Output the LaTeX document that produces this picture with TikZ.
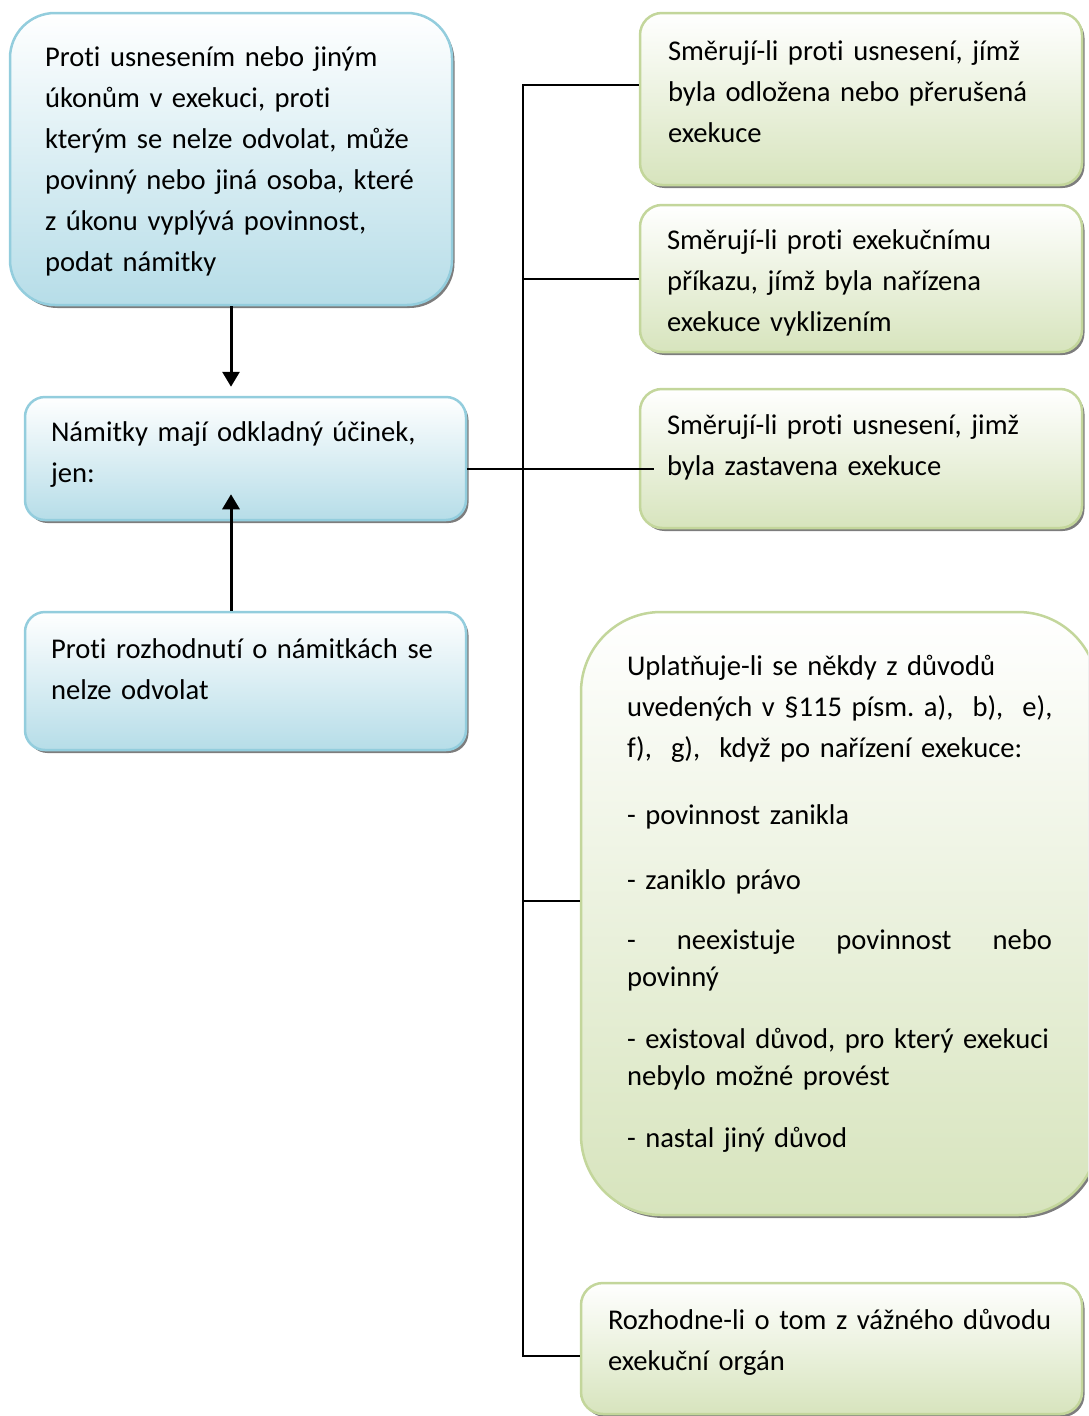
\documentclass[tikz,border=0pt]{standalone}
\usepackage{fontspec}
\setmainfont{Carlito}[Ligatures=NoCommon]
\usetikzlibrary{arrows.meta,shadows}

\definecolor{aqualine}{HTML}{93CDDD}
\definecolor{aquafill}{HTML}{B6DDE8}
\definecolor{oliveline}{HTML}{C3D69B}
\definecolor{olivefill}{HTML}{D7E4BD}

\hyphenpenalty=10000
\exhyphenpenalty=10000
\newcommand{\chartfont}{\fontsize{28.6pt}{41pt}\selectfont\frenchspacing}
%: \lastline{<depth>} keeps the text off the bottom edge
\newcommand{\lastline}[1]{\rule[-#1]{0pt}{#1}}

\begin{document}
\begin{tikzpicture}[x=1pt,y=-1pt,
  chartbox/.style={draw,line width=2.5pt,inner sep=0pt,align=left,font=\chartfont,
    drop shadow={shadow xshift=2.5pt,shadow yshift=-3pt,fill=black!60,opacity=.85}},
  aquabox/.style={chartbox,draw=aqualine,top color=white,bottom color=aquafill},
  olivebox/.style={chartbox,draw=oliveline,top color=white,bottom color=olivefill},
  link/.style={line width=2pt},
  push/.style={line width=3pt,-{Triangle[width=17pt,length=15pt]}}]
\useasboundingbox (0,0) rectangle (1088,1416);
\clip (0,0) rectangle (1088,1416);

% left column
\node[aquabox,rounded corners=45pt,minimum width=442pt,minimum height=292pt,text width=372pt]
  (objection) at (231,159) {\strut Proti usnesením nebo jiným\\ úkonům v exekuci, proti\\
  kterým se nelze odvolat, může\\ povinný nebo jiná osoba, které\\
  z úkonu vyplývá povinnost,\\ podat námitky\lastline{8pt}};
\node[aquabox,rounded corners=20pt,minimum width=441pt,minimum height=123pt,text width=389pt]
  (effect) at (245.5,458.5) {\strut Námitky mají odkladný účinek,\\ jen:\lastline{21pt}};
\node[aquabox,rounded corners=20pt,minimum width=441pt,minimum height=138pt,text width=389pt]
  (ruling) at (245.5,681) {\strut Proti rozhodnutí o námitkách se\\ nelze odvolat\lastline{32pt}};

% right column
\node[olivebox,rounded corners=22pt,minimum width=442pt,minimum height=172pt,text width=386pt]
  (suspended) at (861,99) {\strut Směrují-li proti usnesení, jímž\\ byla odložena nebo přerušená\\
  exekuce\lastline{23pt}};
\node[olivebox,rounded corners=22pt,minimum width=442pt,minimum height=147pt,text width=388pt]
  (eviction) at (861,278.5) {\strut Směrují-li proti exekučnímu\\ příkazu, jímž byla nařízena\\
  exekuce vyklizením\lastline{4pt}};
\node[olivebox,rounded corners=22pt,minimum width=442pt,minimum height=139pt,text width=388pt]
  (stopped) at (861,458.5) {\strut Směrují-li proti usnesení, jimž\\ byla zastavena exekuce\lastline{35pt}};
\node[olivebox,rounded corners=80pt,minimum width=517pt,minimum height=603pt,text width=425pt]
  (grounds) at (839.5,913.5) {\strut Uplatňuje-li se někdy z důvodů\\
  \mbox{uvedených v §115 písm. a),~ b),~ e),}\\ f),~ g),~ když po nařízení exekuce:\\[26pt]
  - povinnost zanikla\\[24pt]
  - zaniklo právo\\[19pt]
  -\hfill neexistuje\hfill povinnost\hfill nebo\\[-4pt]
  povinný\\[21pt]
  - existoval důvod, pro který exekuci\\[-4pt]
  nebylo možné provést\\[21pt]
  - nastal jiný důvod\lastline{32pt}};
\node[olivebox,rounded corners=22pt,minimum width=501pt,minimum height=131pt,text width=447pt]
  (organ) at (831.5,1348.5) {\strut Rozhodne-li o tom z vážného důvodu\\ exekuční orgán\lastline{25pt}};

% arrows into the middle box
\coordinate (tipB) at ([yshift=9pt]effect.north);
\coordinate (tipC) at ([yshift=27pt]effect.south);
\draw[push] (objection.south) -- (objection.south |- tipB);
\draw[push] (objection.south |- ruling.north) -- (objection.south |- tipC);

% the spine on the right
\coordinate (spine) at (523,0);
\coordinate (tapD) at ([yshift=14pt]suspended.west);
\coordinate (tapF) at ([xshift=15pt,yshift=-10pt]stopped.west);
\coordinate (tapG) at ([yshift=13pt]grounds.west);
\coordinate (tapH) at ([yshift=-7.5pt]organ.west);
\draw[link] (tapD) -| (spine |- tapH) -- (tapH);
\draw[link] (spine |- eviction.west) -- (eviction.west);
\draw[link] (effect.east |- tapF) -- (tapF);
\draw[link] (spine |- tapG) -- (tapG);
\end{tikzpicture}
\end{document}
